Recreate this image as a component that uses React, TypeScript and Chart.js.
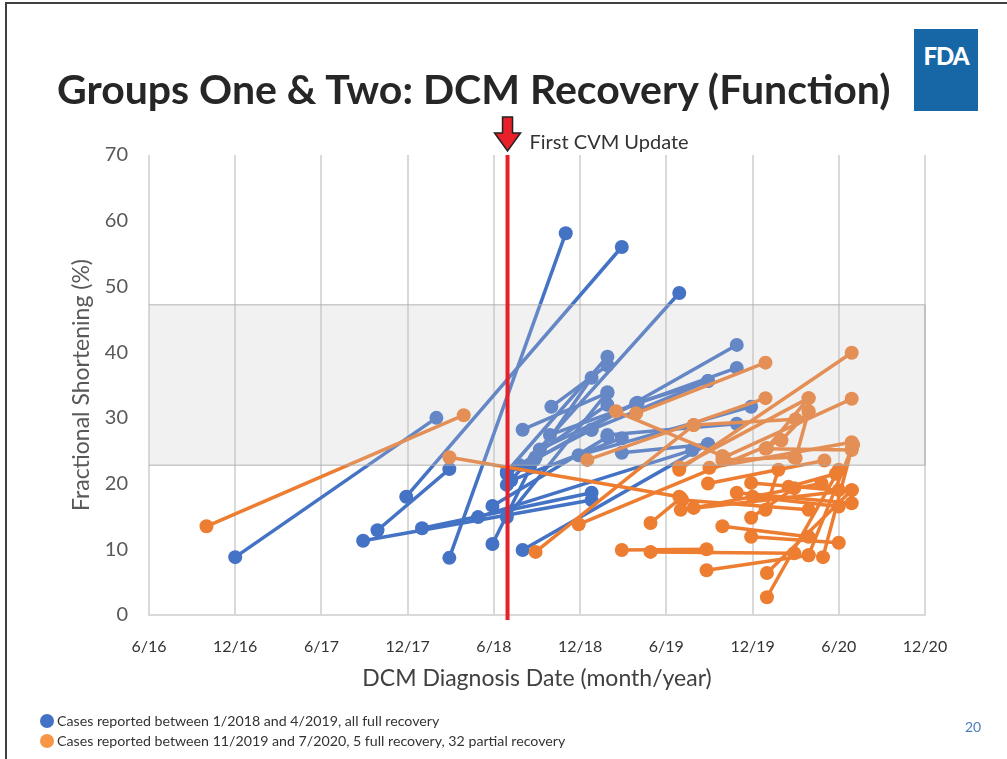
import React, { useEffect, useRef } from "react";
import { Chart, registerables } from "chart.js";

Chart.register(...registerables);

// x values are months counted from January 2016 (0 = 1/16, 5 = 6/16 ...)
const xTickMonths = [5, 11, 17, 23, 29, 35, 41, 47, 53, 59];
const xTickLabels = ["6/16", "12/16", "6/17", "12/17", "6/18", "12/18", "6/19", "12/19", "6/20", "12/20"];
const yTickValues = [0, 10, 20, 30, 40, 50, 60, 70];
const normalRange = [22.8, 47.2];
const cvmUpdateMonth = 29.95;

// each case: [diagnosis month, FS at diagnosis, follow-up month, FS at follow-up]
const blueCases: number[][] = [
  [11.0, 8.8, 25.0, 30.0],
  [19.9, 11.3, 35.8, 17.5],
  [20.9, 12.9, 25.9, 22.2],
  [22.9, 18.0, 37.9, 56.0],
  [24.0, 13.2, 35.8, 18.6],
  [25.9, 8.7, 34.0, 58.1],
  [27.9, 14.9, 42.8, 25.1],
  [28.9, 16.6, 36.9, 27.1],
  [28.9, 10.8, 31.9, 24.0],
  [31.0, 9.9, 43.9, 26.0],
  [29.9, 21.8, 36.9, 39.3],
  [29.9, 19.8, 41.9, 49.0],
  [29.9, 14.9, 36.9, 33.9],
  [31.0, 28.2, 36.9, 33.8],
  [31.8, 23.6, 45.9, 41.1],
  [31.5, 22.5, 35.8, 36.1],
  [32.9, 27.4, 45.9, 37.6],
  [33.0, 31.7, 36.9, 38.0],
  [34.9, 24.3, 46.9, 31.7],
  [35.8, 28.2, 43.9, 35.6],
  [36.9, 27.4, 45.9, 29.1],
  [37.9, 24.7, 43.9, 26.0],
  [39.0, 32.3, 43.9, 35.6],
  [29.9, 21.5, 35.8, 28.2],
  [30.8, 22.8, 36.9, 32.0],
  [30.2, 20.5, 37.9, 26.9],
  [32.2, 25.2, 38.9, 32.2],
];

const orangeCases: number[][] = [
  [9.0, 13.5, 26.9, 30.4],
  [25.9, 24.0, 41.9, 18.0],
  [31.9, 9.6, 42.9, 28.9],
  [34.9, 13.8, 49.0, 26.6],
  [37.9, 9.9, 43.8, 10.0],
  [39.9, 9.6, 49.9, 9.4],
  [39.9, 14.0, 42.0, 17.8],
  [43.8, 6.8, 50.9, 9.1],
  [44.9, 13.5, 50.9, 11.9],
  [48.0, 2.7, 53.0, 22.1],
  [48.0, 6.4, 53.9, 19.0],
  [50.9, 9.1, 54.0, 25.9],
  [51.9, 8.8, 53.9, 25.3],
  [46.9, 11.9, 53.0, 11.0],
  [42.0, 16.0, 53.9, 19.0],
  [42.9, 16.3, 51.8, 20.0],
  [42.1, 17.5, 50.9, 16.0],
  [45.9, 18.6, 53.9, 17.0],
  [46.9, 20.1, 53.0, 19.0],
  [46.9, 14.8, 49.9, 19.3],
  [47.9, 16.0, 48.8, 22.1],
  [44.0, 22.4, 53.9, 26.3],
  [45.0, 24.0, 53.9, 32.9],
  [41.9, 22.5, 50.9, 33.0],
  [38.9, 30.7, 47.9, 38.4],
  [41.9, 22.1, 53.9, 39.9],
  [42.9, 28.9, 50.0, 29.8],
  [37.5, 31.0, 44.9, 24.2],
  [47.9, 25.3, 53.9, 25.1],
  [49.0, 26.6, 50.9, 30.9],
  [50.0, 23.9, 50.9, 31.0],
  [48.0, 25.4, 50.9, 33.0],
  [35.5, 23.6, 47.9, 33.0],
  [44.9, 23.6, 49.9, 24.0],
  [43.9, 20.0, 52.0, 23.5],
  [47.0, 18.0, 53.0, 16.5],
  [49.5, 19.5, 52.8, 21.5],
];

const BLUE = "#4472C4";
const ORANGE = "#ED7D31";
const FONT = "Lato, 'Open Sans', sans-serif";

const overlayPlugin = {
  id: "overlay",
  afterDatasetsDraw(chart: any) {
    const { ctx, chartArea, scales } = chart;
    const y1 = scales.y.getPixelForValue(normalRange[1]);
    const y0 = scales.y.getPixelForValue(normalRange[0]);
    ctx.save();
    ctx.fillStyle = "rgba(200,200,200,0.25)";
    ctx.fillRect(chartArea.left, y1, chartArea.right - chartArea.left, y0 - y1);
    ctx.strokeStyle = "rgba(170,170,170,0.6)";
    ctx.lineWidth = 1.5;
    ctx.beginPath();
    ctx.moveTo(chartArea.left, y1);
    ctx.lineTo(chartArea.right, y1);
    ctx.moveTo(chartArea.left, y0);
    ctx.lineTo(chartArea.right, y0);
    ctx.moveTo(chartArea.right, y1);
    ctx.lineTo(chartArea.right, y0);
    ctx.stroke();

    // red vertical line
    const x = scales.x.getPixelForValue(cvmUpdateMonth);
    ctx.strokeStyle = "#E8202A";
    ctx.lineWidth = 4;
    ctx.beginPath();
    ctx.moveTo(x, chartArea.top);
    ctx.lineTo(x, chartArea.bottom + 5);
    ctx.stroke();

    // arrow
    const top = chartArea.top - 38;
    ctx.beginPath();
    ctx.moveTo(x - 5, top);
    ctx.lineTo(x + 5, top);
    ctx.lineTo(x + 5, top + 16);
    ctx.lineTo(x + 13, top + 16);
    ctx.lineTo(x, top + 34);
    ctx.lineTo(x - 13, top + 16);
    ctx.lineTo(x - 5, top + 16);
    ctx.closePath();
    ctx.fillStyle = "#E8202A";
    ctx.fill();
    ctx.strokeStyle = "#222";
    ctx.lineWidth = 1.5;
    ctx.stroke();

    ctx.fillStyle = "#333";
    ctx.font = `20px ${FONT}`;
    ctx.textAlign = "left";
    ctx.textBaseline = "middle";
    ctx.fillText("First CVM Update", x + 22, top + 26);
    ctx.restore();
  },
};

function makeDatasets() {
  const ds: any[] = [];
  blueCases.forEach((c, i) => {
    ds.push({
      label: i === 0 ? "Cases reported between 1/2018 and 4/2019, all full recovery" : "",
      data: [{ x: c[0], y: c[1] }, { x: c[2], y: c[3] }],
      showLine: true,
      borderColor: BLUE,
      backgroundColor: BLUE,
      borderWidth: 3.5,
      pointRadius: 7,
      pointBorderWidth: 0,
      order: 1,
    });
  });
  orangeCases.forEach((c, i) => {
    ds.push({
      label: i === 0 ? "Cases reported between 11/2019 and 7/2020, 5 full recovery, 32 partial recovery" : "",
      data: [{ x: c[0], y: c[1] }, { x: c[2], y: c[3] }],
      showLine: true,
      borderColor: ORANGE,
      backgroundColor: ORANGE,
      borderWidth: 3.5,
      pointRadius: 7,
      pointBorderWidth: 0,
      order: 0,
    });
  });
  return ds;
}

export default function App() {
  const ref = useRef<HTMLCanvasElement>(null);
  useEffect(() => {
    document.body.style.margin = "0";
    const chart = new Chart(ref.current!, {
      type: "scatter",
      data: { datasets: makeDatasets() },
      options: {
        animation: false,
        responsive: false,
        layout: { padding: { left: 0, top: 155, right: 82, bottom: 0 } },
        plugins: { legend: { display: false }, tooltip: { enabled: false } },
        scales: {
          x: {
            type: "linear",
            min: 5,
            max: 59,
            afterBuildTicks: (s: any) => {
              s.ticks = xTickMonths.map((v) => ({ value: v }));
            },
            afterFit: (s: any) => {
              s.height = 144;
            },
            ticks: {
              callback: (v: any) => {
                const i = xTickMonths.indexOf(Number(v));
                return i >= 0 ? xTickLabels[i] : "";
              },
              color: "#333",
              font: { family: FONT, size: 16 },
              padding: 22,
              maxRotation: 0,
            },
            grid: { color: "#D9D9D9", lineWidth: 2, drawTicks: false },
            border: { display: true, color: "#D9D9D9", width: 2 },
            title: {
              display: true,
              text: "DCM Diagnosis Date (month/year)",
              color: "#404040",
              font: { family: FONT, size: 23 },
              padding: { top: 0, bottom: 67 },
            },
          },
          y: {
            min: 0,
            max: 70,
            afterBuildTicks: (s: any) => {
              s.ticks = yTickValues.map((v) => ({ value: v }));
            },
            afterFit: (s: any) => {
              s.width = 149;
            },
            ticks: {
              color: "#595959",
              font: { family: FONT, size: 20 },
              padding: 21,
            },
            grid: { display: false, drawTicks: false },
            border: { display: false },
            title: {
              display: true,
              text: "Fractional Shortening (%)",
              color: "#595959",
              font: { family: FONT, size: 23 },
              padding: { top: 68, bottom: 0 },
            },
          },
        },
      },
      plugins: [overlayPlugin],
    });
    return () => chart.destroy();
  }, []);

  return (
    <div style={{ position: "absolute", left: 0, top: 0, width: 1007, height: 759, background: "#fff", overflow: "hidden", fontFamily: FONT }}>
      <div style={{ position: "absolute", left: 5, top: 2, width: 1002, height: 2, background: "#404040" }} />
      <div style={{ position: "absolute", left: 5, top: 2, width: 2, height: 757, background: "#404040" }} />
      <canvas ref={ref} width={1007} height={759} style={{ position: "absolute", left: 0, top: 0 }} />
      <div style={{ position: "absolute", left: 57, top: 63, fontSize: 41, fontWeight: 700, color: "#262626", whiteSpace: "nowrap", lineHeight: "52px" }}>
        Groups One &amp; Two: DCM Recovery (Function)
      </div>
      <div style={{ position: "absolute", left: 914, top: 29, width: 64, height: 82, background: "#1766A6", color: "#fff", fontWeight: 900, fontSize: 24, textAlign: "center", letterSpacing: -1 }}>
        <div style={{ lineHeight: "30px", marginTop: 12 }}>FDA</div>
      </div>
      <div style={{ position: "absolute", left: 40, top: 711, fontSize: 14.2, color: "#333", lineHeight: "20px", whiteSpace: "nowrap" }}>
        <div style={{ display: "flex", alignItems: "center" }}>
          <span style={{ display: "inline-block", width: 14, height: 14, borderRadius: 7, background: BLUE, marginRight: 3 }} />
          Cases reported between 1/2018 and 4/2019, all full recovery
        </div>
        <div style={{ display: "flex", alignItems: "center" }}>
          <span style={{ display: "inline-block", width: 14, height: 14, borderRadius: 7, background: "#F79646", marginRight: 3 }} />
          Cases reported between 11/2019 and 7/2020, 5 full recovery, 32 partial recovery
        </div>
      </div>
      <div style={{ position: "absolute", left: 965, top: 718, fontSize: 14, color: "#4A7EBB" }}>20</div>
    </div>
  );
}
